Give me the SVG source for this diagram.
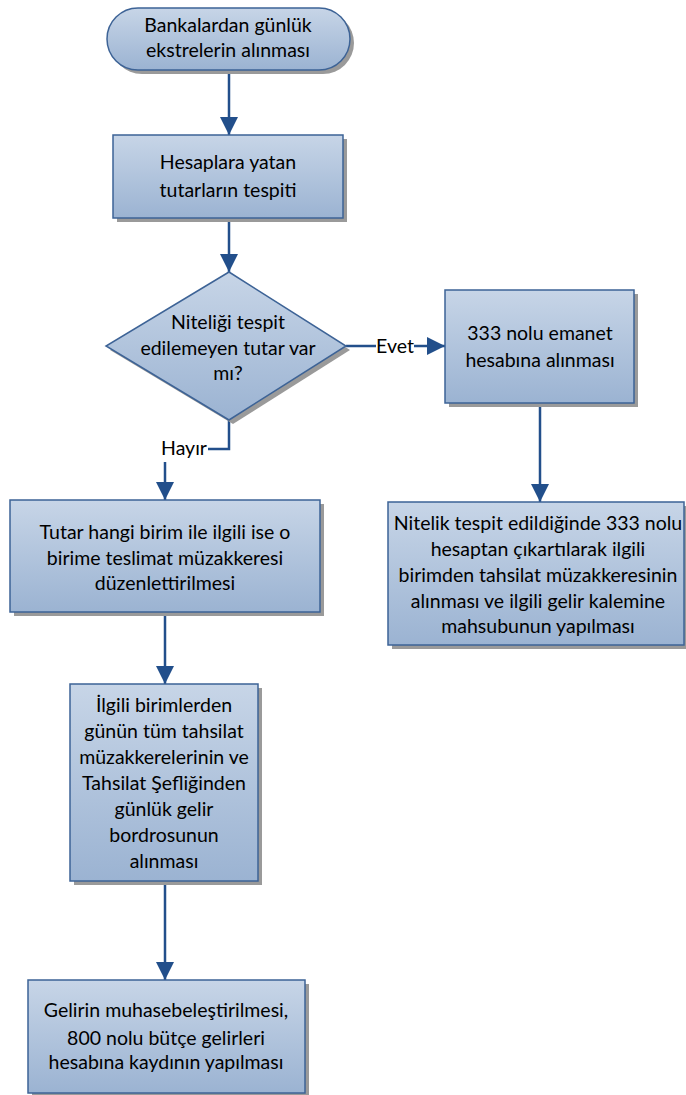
<svg xmlns="http://www.w3.org/2000/svg" width="686" height="1095" viewBox="0 0 686 1095">
<defs>
<linearGradient id="g" x1="0" y1="0" x2="0" y2="1">
<stop offset="0" stop-color="#c7d5e7"/>
<stop offset="1" stop-color="#9bb3d2"/>
</linearGradient>
<marker id="ah" markerUnits="userSpaceOnUse" markerWidth="18" markerHeight="18" viewBox="0 0 18 18" refX="18" refY="9" orient="auto">
<path d="M0,0 L18,9 L0,18 Z" fill="#224f8b"/>
</marker>
<style>
.s{fill:url(#g);stroke:#3d6396;stroke-width:1.5}
.sh{fill:#9a9a9a}
.t{font-family:Lato,"Liberation Sans",sans-serif;font-size:19.5px;fill:#000;text-anchor:middle}
.c{fill:none;stroke:#224f8b;stroke-width:2.5}
</style>
</defs>
<rect width="686" height="1095" fill="#fff"/>
<g id="connectors">
<path class="c" d="M229,70 L229,135" marker-end="url(#ah)"/>
<path class="c" d="M229,218 L229,272" marker-end="url(#ah)"/>
<path class="c" d="M346,346 L376,346"/>
<path class="c" d="M414,346 L445,346" marker-end="url(#ah)"/>
<path class="c" d="M229,420 L229,449 L208,449"/>
<path class="c" d="M165,462 L165,500" marker-end="url(#ah)"/>
<path class="c" d="M540,403 L540,502" marker-end="url(#ah)"/>
<path class="c" d="M165,612 L165,684" marker-end="url(#ah)"/>
<path class="c" d="M165,881 L165,980" marker-end="url(#ah)"/>
<text class="t" x="395" y="353">Evet</text>
<text class="t" x="184" y="455">Hayır</text>
</g>
<g id="start">
<rect class="sh" x="111" y="12" width="243" height="62" rx="31"/>
<rect class="s" x="107" y="8" width="243" height="62" rx="31"/>
<text class="t" x="228" y="32">Bankalardan günlük</text>
<text class="t" x="228" y="57">ekstrelerin alınması</text>
</g>
<g id="hesaplara">
<rect class="sh" x="117" y="139" width="230" height="83"/>
<rect class="s" x="113" y="135" width="230" height="83"/>
<text class="t" x="228" y="169">Hesaplara yatan</text>
<text class="t" x="228" y="197">tutarların tespiti</text>
</g>
<g id="decision">
<path class="sh" d="M233,276 L350,350 L233,424 L110,350 Z"/>
<path class="s" d="M229,272 L346,346 L229,420 L106,346 Z"/>
<text class="t" x="228" y="329">Niteliği tespit</text>
<text class="t" x="228" y="355">edilemeyen tutar var</text>
<text class="t" x="228" y="380">mı?</text>
</g>
<g id="emanet">
<rect class="sh" x="449" y="294" width="189" height="113"/>
<rect class="s" x="445" y="290" width="189" height="113"/>
<text class="t" x="540" y="340">333 nolu emanet</text>
<text class="t" x="540" y="367">hesabına alınması</text>
</g>
<g id="nitelik">
<rect class="sh" x="392" y="506" width="296" height="143"/>
<rect class="s" x="388" y="502" width="296" height="143"/>
<text class="t" x="538" y="530">Nitelik tespit edildiğinde 333 nolu</text>
<text class="t" x="538" y="556">hesaptan çıkartılarak ilgili</text>
<text class="t" x="538" y="582">birimden tahsilat müzakkeresinin</text>
<text class="t" x="538" y="608">alınması ve ilgili gelir kalemine</text>
<text class="t" x="538" y="633">mahsubunun yapılması</text>
</g>
<g id="tutar">
<rect class="sh" x="14" y="504" width="310" height="112"/>
<rect class="s" x="10" y="500" width="310" height="112"/>
<text class="t" x="165" y="539">Tutar hangi birim ile ilgili ise o</text>
<text class="t" x="165" y="565">birime teslimat müzakkeresi</text>
<text class="t" x="165" y="590">düzenlettirilmesi</text>
</g>
<g id="ilgili">
<rect class="sh" x="74" y="688" width="188" height="197"/>
<rect class="s" x="70" y="684" width="188" height="197"/>
<text class="t" x="164" y="712">İlgili birimlerden</text>
<text class="t" x="164" y="738">günün tüm tahsilat</text>
<text class="t" x="164" y="764">müzakkerelerinin ve</text>
<text class="t" x="164" y="790">Tahsilat Şefliğinden</text>
<text class="t" x="164" y="816">günlük gelir</text>
<text class="t" x="164" y="842">bordrosunun</text>
<text class="t" x="164" y="868">alınması</text>
</g>
<g id="gelir">
<rect class="sh" x="32" y="984" width="277" height="113"/>
<rect class="s" x="28" y="980" width="277" height="113"/>
<text class="t" x="166" y="1017">Gelirin muhasebeleştirilmesi,</text>
<text class="t" x="166" y="1045">800 nolu bütçe gelirleri</text>
<text class="t" x="166" y="1069">hesabına kaydının yapılması</text>
</g>
</svg>
